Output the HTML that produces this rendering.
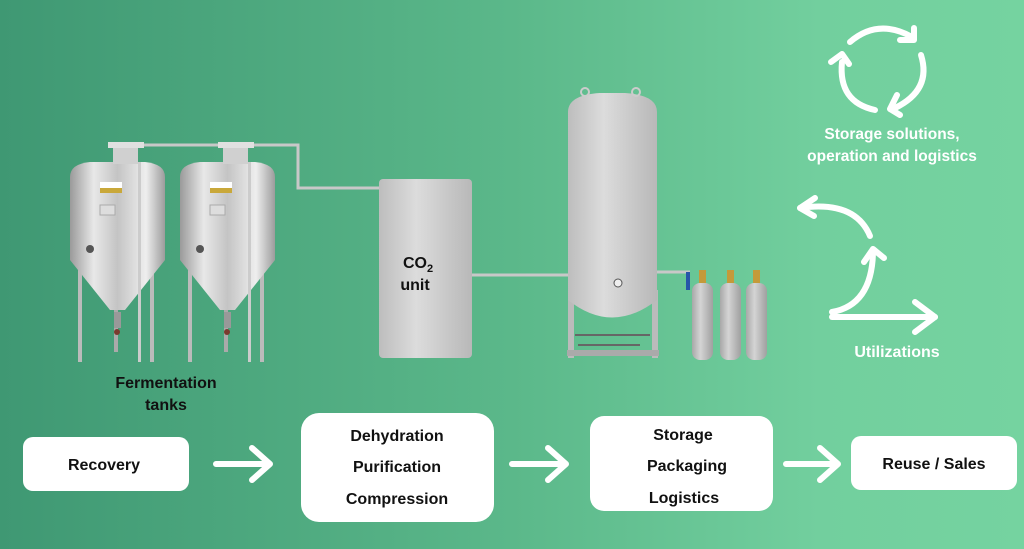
<!DOCTYPE html>
<html><head><meta charset="utf-8"><style>
html,body{margin:0;padding:0;width:1024px;height:549px;overflow:hidden}
svg{display:block}
text{font-family:"Liberation Sans",sans-serif;font-weight:bold}
</style></head><body>
<svg width="1024" height="549" viewBox="0 0 1024 549" xmlns="http://www.w3.org/2000/svg">
<defs>
<linearGradient id="bg" x1="0" y1="0" x2="1" y2="0">
<stop offset="0" stop-color="#3f9873"/><stop offset="0.5" stop-color="#5bb88a"/><stop offset="0.8" stop-color="#72cf9e"/><stop offset="1" stop-color="#75d3a0"/>
</linearGradient>
<linearGradient id="steel" x1="0" y1="0" x2="1" y2="0">
<stop offset="0" stop-color="#9a9a9a"/><stop offset="0.25" stop-color="#e8e8e8"/><stop offset="0.5" stop-color="#c4c4c4"/><stop offset="0.8" stop-color="#eeeeee"/><stop offset="1" stop-color="#9c9c9c"/>
</linearGradient>
<linearGradient id="grey" x1="0" y1="0" x2="1" y2="0">
<stop offset="0" stop-color="#bdbdbd"/><stop offset="0.4" stop-color="#dcdcdc"/><stop offset="1" stop-color="#b8b8b8"/>
</linearGradient>
<linearGradient id="cyl" x1="0" y1="0" x2="1" y2="0">
<stop offset="0" stop-color="#a8a8a8"/><stop offset="0.4" stop-color="#d4d4d4"/><stop offset="1" stop-color="#a0a0a0"/>
</linearGradient>
<g id="tank">
<rect x="8" y="45" width="4" height="175" fill="#bbb"/>
<rect x="80" y="45" width="4" height="175" fill="#bbb"/>
<rect x="44" y="150" width="4" height="60" fill="#aaa"/>
<path d="M0 35 Q0 22 20 20 L75 20 Q95 22 95 35 L95 118 L55 168 L40 168 L0 118 Z" fill="url(#steel)"/>
<rect x="43" y="5" width="25" height="17" fill="#d0d0d0"/>
<rect x="38" y="0" width="36" height="6" fill="#e0e0e0"/>
<rect x="30" y="40" width="22" height="6" fill="#fff"/>
<rect x="30" y="46" width="22" height="5" fill="#c9a83a"/>
<rect x="30" y="63" width="15" height="10" fill="#ddd" stroke="#aaa"/>
<circle cx="20" cy="107" r="4" fill="#555"/>
<rect x="44" y="170" width="7" height="16" fill="#999"/>
<circle cx="47" cy="190" r="3" fill="#7a3b2e"/>
<rect x="68" y="20" width="3" height="200" fill="#ccc"/>
</g>
</defs>
<rect width="1024" height="549" fill="url(#bg)"/>

<!-- pipes -->
<path d="M110 145 H298 V188 H380" fill="none" stroke="#c8c8c8" stroke-width="3"/>
<path d="M472 275 H570" fill="none" stroke="#c8c8c8" stroke-width="3"/>
<path d="M656 272 H690" fill="none" stroke="#c8c8c8" stroke-width="3"/>

<use href="#tank" x="70" y="142"/>
<use href="#tank" x="180" y="142"/>

<!-- CO2 unit -->
<rect x="379" y="179" width="93" height="179" rx="4" fill="url(#grey)"/>
<text x="418" y="268" font-size="16" text-anchor="middle" fill="#111">CO<tspan font-size="11" dy="4">2</tspan></text>
<text x="415" y="290" font-size="16" text-anchor="middle" fill="#111">unit</text>

<!-- big storage tank -->
<rect x="568" y="290" width="6" height="68" fill="#bbb"/>
<rect x="652" y="290" width="6" height="68" fill="#bbb"/>
<rect x="567" y="350" width="92" height="6" fill="#aaa"/>
<path d="M568 112 Q568 95 600 93 L625 93 Q657 95 657 112 L657 300 Q612 335 568 300 Z" fill="url(#grey)"/>
<circle cx="585" cy="92" r="4" fill="none" stroke="#ccc" stroke-width="2"/>
<circle cx="636" cy="92" r="4" fill="none" stroke="#ccc" stroke-width="2"/>
<circle cx="618" cy="283" r="4" fill="#eee" stroke="#555"/>
<path d="M575 335 L650 335 M578 345 L640 345" stroke="#666" stroke-width="2"/>

<!-- gas cylinders -->
<rect x="686" y="272" width="4" height="18" fill="#2755a8"/>
<g fill="url(#cyl)">
<rect x="692" y="283" width="21" height="77" rx="8"/>
<rect x="720" y="283" width="21" height="77" rx="8"/>
<rect x="746" y="283" width="21" height="77" rx="8"/>
</g>
<g fill="#c49a3a"><rect x="699" y="270" width="7" height="13"/><rect x="727" y="270" width="7" height="13"/><rect x="753" y="270" width="7" height="13"/></g>

<text x="166" y="388" font-size="16" text-anchor="middle" fill="#111">Fermentation</text>
<text x="166" y="410" font-size="16" text-anchor="middle" fill="#111">tanks</text>

<!-- boxes -->
<g fill="#fff">
<rect x="23" y="437" width="166" height="54" rx="10"/>
<rect x="301" y="413" width="193" height="109" rx="18"/>
<rect x="590" y="416" width="183" height="95" rx="14"/>
<rect x="851" y="436" width="166" height="54" rx="10"/>
</g>
<g font-size="16" fill="#111" text-anchor="middle">
<text x="104" y="470">Recovery</text>
<text x="397" y="441">Dehydration</text>
<text x="397" y="472">Purification</text>
<text x="397" y="504">Compression</text>
<text x="683" y="440">Storage</text>
<text x="687" y="471">Packaging</text>
<text x="684" y="503">Logistics</text>
<text x="934" y="469">Reuse / Sales</text>
</g>

<!-- arrows -->
<g stroke="#fff" stroke-width="6" fill="none" stroke-linecap="round" stroke-linejoin="round">
<path d="M216 464 H270 M252 448 L270 464 L252 480"/>
<path d="M512 464 H566 M548 448 L566 464 L548 480"/>
<path d="M786 464 H838 M820 448 L838 464 L820 480"/>
</g>

<!-- cycle icon -->
<g stroke="#fff" stroke-width="6" fill="none" stroke-linecap="round" stroke-linejoin="round">
<path d="M850 42 Q878 18 912 37"/>
<path d="M900 40 L914 40 L914 28"/>
<path d="M921 55 Q932 90 895 108"/>
<path d="M897 95 L890 109 L900 115"/>
<path d="M875 110 Q838 102 842 62"/>
<path d="M831 62 L842 54 L849 64"/>
</g>
<text x="892" y="139" font-size="15.5" text-anchor="middle" fill="#fff">Storage solutions,</text>
<text x="892" y="161" font-size="15.5" text-anchor="middle" fill="#fff">operation  and logistics</text>

<!-- utilizations -->
<g stroke="#fff" stroke-width="6" fill="none" stroke-linecap="round" stroke-linejoin="round">
<path d="M870 236 Q855 200 800 208"/>
<path d="M815 198 L800 208 L814 216"/>
<path d="M832 312 Q872 305 873 252"/>
<path d="M864 262 L873 249 L884 258"/>
<path d="M832 317 H935"/>
<path d="M915 302 L935 317 L915 332"/>
</g>
<text x="897" y="357" font-size="16" text-anchor="middle" fill="#fff">Utilizations</text>
</svg>
</body></html>
